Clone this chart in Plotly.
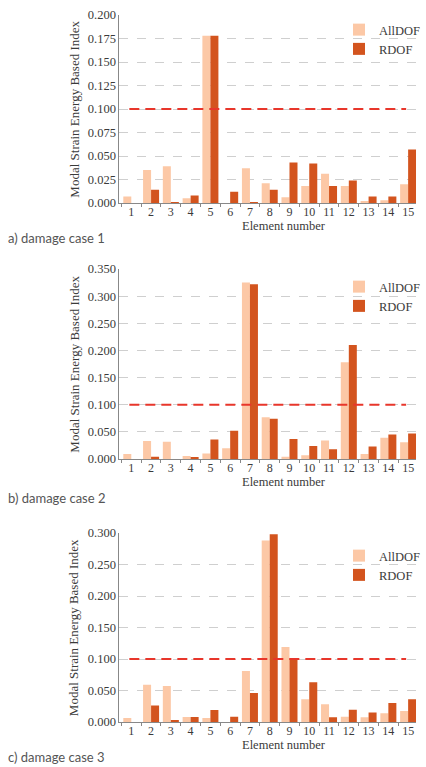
import plotly.graph_objects as go

elements = [str(i) for i in range(1, 16)]

# damage case 1
case1_alldof = [0.007, 0.035, 0.039, 0.005, 0.178, 0.0, 0.037, 0.021, 0.006, 0.018, 0.031, 0.018, 0.002, 0.003, 0.020]
case1_rdof   = [0.0, 0.014, 0.0007, 0.008, 0.178, 0.012, 0.001, 0.014, 0.043, 0.042, 0.018, 0.024, 0.007, 0.007, 0.057]
# damage case 2
case2_alldof = [0.009, 0.033, 0.032, 0.0055, 0.010, 0.020, 0.325, 0.077, 0.004, 0.007, 0.034, 0.178, 0.009, 0.039, 0.031]
case2_rdof   = [0.0, 0.004, 0.0, 0.0025, 0.036, 0.052, 0.322, 0.074, 0.037, 0.024, 0.018, 0.210, 0.023, 0.045, 0.047]
# damage case 3
case3_alldof = [0.0065, 0.059, 0.057, 0.008, 0.0065, 0.0, 0.081, 0.288, 0.119, 0.036, 0.028, 0.0085, 0.0075, 0.014, 0.0175]
case3_rdof   = [0.0, 0.026, 0.003, 0.008, 0.019, 0.0085, 0.046, 0.298, 0.101, 0.063, 0.0075, 0.0195, 0.015, 0.030, 0.036]

threshold = 0.1
y_max = [0.200, 0.350, 0.300]
y_dtick = [0.025, 0.050, 0.050]
captions = ["a) damage case 1", "b) damage case 2", "c) damage case 3"]

series = [(case1_alldof, case1_rdof), (case2_alldof, case2_rdof), (case3_alldof, case3_rdof)]

W, H = 426, 767
LIGHT = "#fcc8a6"
DARK = "#d3541e"
SERIF = "Liberation Serif"
TXT = "#3a3a3a"

def px(y):
    return 1 - y / H

# pixel positions of plot areas (top, bottom)
areas = [(15, 203), (269, 459), (533, 722)]
x_left, x_right = 120, 418
legend_tops = [15, 272, 541]
captions_y = [238, 498, 757]

fig = go.Figure()
layout = dict(
    width=W, height=H, margin=dict(l=0, r=0, t=0, b=0),
    paper_bgcolor="white", plot_bgcolor="white",
    barmode="group", bargap=0.19, bargroupgap=0.0,
    font=dict(family=SERIF, size=12, color=TXT),
    shapes=[], annotations=[],
)

for i, (a, r) in enumerate(series):
    sfx = "" if i == 0 else str(i + 1)
    xa = "x" + sfx
    ya = "y" + sfx
    leg = "legend" + sfx
    fig.add_trace(go.Bar(x=elements, y=a, name="AllDOF", marker=dict(color=LIGHT, line=dict(width=0)),
                         xaxis=xa, yaxis=ya, legend=leg, offsetgroup="a"))
    fig.add_trace(go.Bar(x=elements, y=r, name="RDOF", marker=dict(color=DARK, line=dict(width=0)),
                         xaxis=xa, yaxis=ya, legend=leg, offsetgroup="r"))
    top, bot = areas[i]
    layout["xaxis" + sfx] = dict(
        domain=[x_left / W, x_right / W], anchor=ya, type="category",
        range=[-0.6, 14.4], tickson="boundaries", ticks="outside", ticklen=3,
        tickcolor="#888", showline=True, linecolor="#888", linewidth=1,
        showgrid=False, tickangle=0, automargin=False, ticklabelstandoff=-2,
        tickfont=dict(family=SERIF, size=12, color=TXT),
    )
    layout["yaxis" + sfx] = dict(
        domain=[px(bot), px(top)], anchor=xa, range=[0, y_max[i]], dtick=y_dtick[i],
        tickformat=".3f", showline=True, linecolor="#888", linewidth=1,
        showgrid=True, gridcolor="#cfcfcf", griddash="dash", gridwidth=1,
        zeroline=False, ticks="", automargin=False,
        tickfont=dict(family=SERIF, size=12.5, color=TXT),
    )
    layout[leg] = dict(
        x=341 / W, xanchor="left", y=px(legend_tops[i]), yanchor="top",
        bgcolor="rgba(255,255,255,0)", font=dict(family=SERIF, size=12.5, color=TXT),
        itemwidth=30, tracegroupgap=0,
    )
    layout["shapes"].append(dict(
        type="line", xref=xa, yref=ya, x0=-0.1, x1=13.9, y0=threshold, y1=threshold,
        line=dict(color="#e8362b", width=2, dash="10px,6px"),
    ))
    layout["annotations"].append(dict(
        text="Element number", xref="paper", yref="paper", x=285 / W, y=px(bot + 23),
        xanchor="center", yanchor="middle", showarrow=False,
        font=dict(family=SERIF, size=12.5, color=TXT),
    ))
    layout["annotations"].append(dict(
        text="Modal Strain Energy Based Index", xref="paper", yref="paper", x=74 / W,
        y=px((top + bot) / 2), xanchor="center", yanchor="middle", textangle=-90,
        showarrow=False, font=dict(family=SERIF, size=13, color=TXT),
    ))
    layout["annotations"].append(dict(
        text=captions[i], xref="paper", yref="paper", x=6 / W, y=px(captions_y[i]),
        xanchor="left", yanchor="middle", showarrow=False,
        font=dict(family="Lato", size=13, color="#555555"),
    ))

fig.update_layout(**layout)
fig.write_html("out.html")
